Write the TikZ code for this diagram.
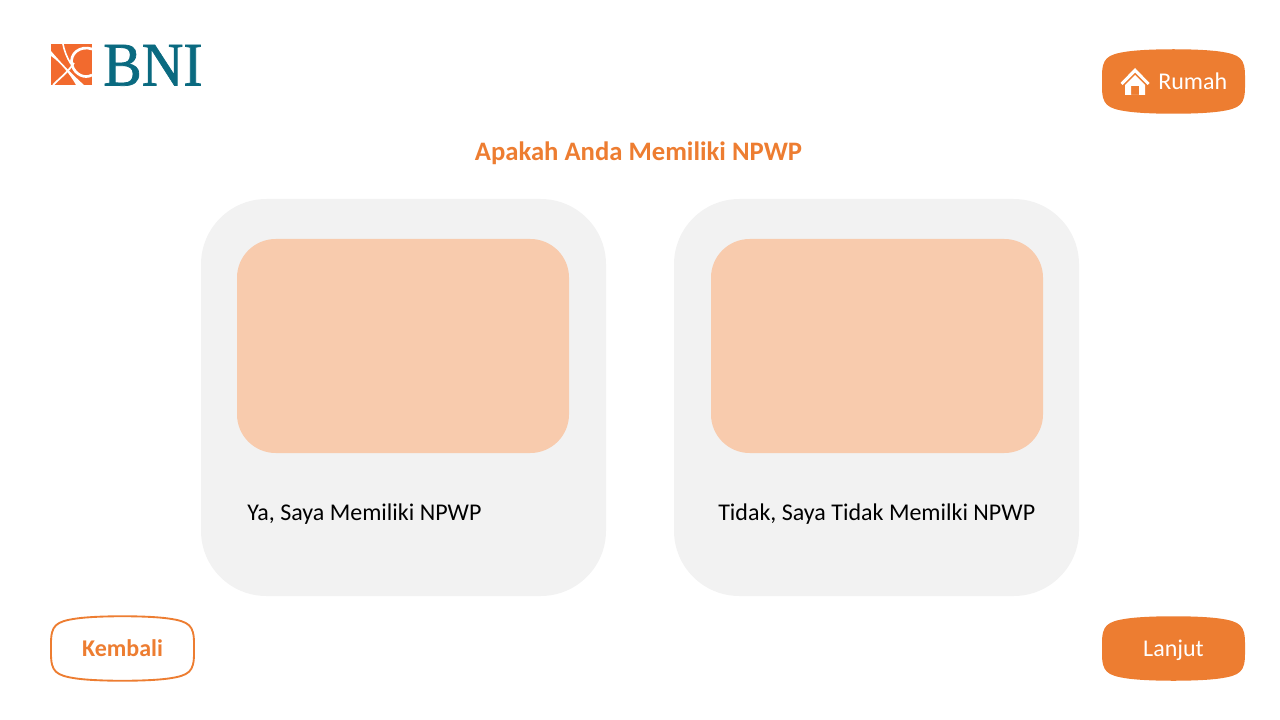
\documentclass[tikz,border=0pt]{standalone}
\usepackage{fontspec}
\setmainfont{Carlito}
\newfontfamily\logofont[FakeBold=1.2]{Liberation Serif}
\usepackage{xcolor}
\usetikzlibrary{positioning}
\definecolor{bniorange}{HTML}{ED7D31}
\definecolor{logoorange}{HTML}{F26A2E}
\definecolor{logoteal}{HTML}{0A6A80}
\definecolor{cardgrey}{HTML}{F2F2F2}
\definecolor{cardpeach}{HTML}{F8CBAD}

\begin{document}
\begin{tikzpicture}[
    x=0.75pt, y=-0.75pt,
    card/.style={fill=cardgrey, rounded corners=49pt, minimum width=303.75pt, minimum height=297.75pt, inner sep=0pt},
    photo/.style={fill=cardpeach, rounded corners=29pt, minimum width=249pt, minimum height=160.5pt, inner sep=0pt},
    caption/.style={font=\fontsize{18}{22}\selectfont, text=black, inner sep=0pt},
    btnlabel/.style={font=\fontsize{18}{22}\selectfont, text=white, inner sep=0pt},
    title/.style={font=\fontsize{20}{24}\selectfont\bfseries, text=bniorange, inner sep=0pt},
    blob/.pic={
        \path[pic actions] (-71.5,-5) .. controls (-71.5,-23) and (-67,-27) .. (-46,-30)
            .. controls (-25,-33) and (25,-33) .. (46,-30)
            .. controls (67,-27) and (71.5,-23) .. (71.5,-5)
            -- (71.5,5)
            .. controls (71.5,23) and (67,27) .. (46,30)
            .. controls (25,33) and (-25,33) .. (-46,30)
            .. controls (-67,27) and (-71.5,23) .. (-71.5,5) -- cycle;
    },
]
\useasboundingbox (0,0) rectangle (1280,720);

% Logo
\node[fill=logoorange, minimum size=30.75pt, inner sep=0pt] (logo) at (71.5,64.5) {};
\begin{scope}
\clip (51,44) rectangle (92,85);
\fill[white] (51,56) .. controls (60,62) and (70,74) .. (76,85) -- (84,85) .. controls (74,76) and (62,64) .. (51,51) -- cycle;
\draw[white, line width=1.2pt] (63,44) .. controls (64,50) and (67,58) .. (71,64);
\draw[white, line width=1.3pt] (53,85) .. controls (60,78) and (68,72) .. (74,63);
\draw[white, line width=2pt] (92,49) .. controls (80,45) and (69,54) .. (72,65) .. controls (75,75) and (85,79) .. (92,75);
\end{scope}
\node[font=\logofont\fontsize{46.5}{50}\selectfont, text=logoteal, inner sep=0pt, anchor=base west, xscale=0.93] (bni) at (103,85.5) {BNI};

% Title
\node[title] (question) at (638.5,153) {Apakah Anda Memiliki NPWP};

% Cards
\node[card] (cardya) at (403.5,397.5) {};
\node[card] (cardtidak) at (876.5,397.5) {};
\node[photo] (photoya) at (403,346) {};
\node[photo] (phototidak) at (877,346) {};
\node[caption, anchor=west] (textya) at (247,514) {Ya, Saya Memiliki NPWP};
\node[caption, anchor=west] (texttidak) at (718,514) {Tidak, Saya Tidak Memilki NPWP};

% Buttons
\pic[fill=bniorange] at (1173.5,81.5) {blob};
\pic[fill=bniorange] at (1173.5,648.5) {blob};
\pic[draw=bniorange, fill=white, line width=1.4pt] at (122.5,648.5) {blob};
\node[btnlabel, anchor=west] (rumah) at (1158,81.5) {Rumah};
\node[btnlabel] (lanjut) at (1173.5,650.5) {Lanjut};
\node[font=\fontsize{18}{22}\selectfont\bfseries, text=bniorange, inner sep=0pt] (kembali) at (122.5,648.5) {Kembali};

% House icon
\fill[white] (1135,68) -- (1120.5,83) -- (1122.5,85) -- (1135,72.5) -- (1147.5,85) -- (1149.5,83) -- cycle;
\fill[white, even odd rule] (1135,75) -- (1125,85) -- (1125,95) -- (1145,95) -- (1145,85) -- cycle
    (1131,86) rectangle (1139,95);
\end{tikzpicture}
\end{document}
